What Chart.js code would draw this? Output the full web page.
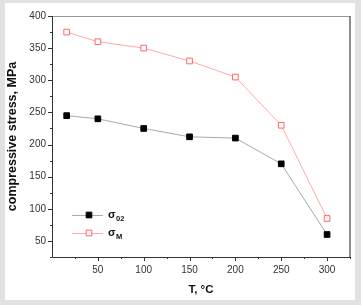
<!DOCTYPE html>
<html>
<head>
<meta charset="utf-8">
<script src="https://cdn.jsdelivr.net/npm/chart.js@4.4.1/dist/chart.umd.min.js"></script>
<style>
html,body{margin:0;padding:0;background:#e2e2e2;}
#wrap{position:relative;width:361px;height:305px;}
</style>
</head>
<body>
<div id="wrap"><canvas id="c" width="361" height="305"></canvas></div>
<script>
const temperatures = [16, 50, 100, 150, 200, 250, 300];
const sigma02 = [245, 240, 225, 212, 210, 170, 60];
const sigmaM = [375, 360, 350, 330, 305, 230, 85];
const xTickValues = [50, 100, 150, 200, 250, 300];
const yTickValues = [50, 100, 150, 200, 250, 300, 350, 400];
const yTitle = 'compressive stress, MPa';
const xTitle = 'T, °C';
const legendItems = [
  {main: 'σ', sub: '02'},
  {main: 'σ', sub: 'M'}
];

const toPoints = (xs, ys) => xs.map((x, i) => ({x: x, y: ys[i]}));

const panelPlugin = {
  id: 'panel',
  beforeDraw(chart) {
    const ctx = chart.ctx;
    ctx.save();
    ctx.fillStyle = '#e2e2e2';
    ctx.fillRect(0, 0, chart.width, chart.height);
    ctx.fillStyle = '#ffffff';
    ctx.fillRect(5, 3, 350, 297);
    ctx.restore();
  },
  afterDatasetsDraw(chart) {
    const ctx = chart.ctx;
    const a = chart.chartArea;
    const xs = chart.scales.x, ys = chart.scales.y;
    ctx.save();
    // frame
    ctx.strokeStyle = '#999';
    ctx.lineWidth = 1;
    ctx.beginPath();
    ctx.moveTo(a.left, a.top + 0.5);
    ctx.lineTo(a.right, a.top + 0.5);
    ctx.stroke();
    ctx.strokeStyle = '#666';
    ctx.lineWidth = 1.5;
    ctx.beginPath();
    ctx.moveTo(a.right, a.top);
    ctx.lineTo(a.right, a.bottom);
    ctx.stroke();
    ctx.strokeStyle = '#333';
    ctx.lineWidth = 1;
    ctx.beginPath();
    ctx.moveTo(a.left + 0.5, a.top);
    ctx.lineTo(a.left + 0.5, a.bottom + 0.5);
    ctx.lineTo(a.right, a.bottom + 0.5);
    ctx.stroke();
    // ticks
    ctx.beginPath();
    for (let v = 25; v <= 325; v += 25) {
      const px = Math.round(xs.getPixelForValue(v)) + 0.5;
      const len = (v % 50 === 0) ? 4 : 2;
      ctx.moveTo(px, a.bottom);
      ctx.lineTo(px, a.bottom + len);
    }
    for (let v = 25; v <= 400; v += 25) {
      const py = Math.round(ys.getPixelForValue(v)) + 0.5;
      const len = (v % 50 === 0) ? 4 : 2;
      ctx.moveTo(a.left, py);
      ctx.lineTo(a.left - len, py);
    }
    ctx.stroke();
    // legend
    const lx1 = 72, lx2 = 103, mx = 89;
    const rows = [215, 233];
    chart.data.datasets.forEach((ds, i) => {
      const y = rows[i];
      ctx.strokeStyle = ds.borderColor;
      ctx.lineWidth = 1;
      ctx.beginPath();
      ctx.moveTo(lx1, y + 0.5);
      ctx.lineTo(lx2, y + 0.5);
      ctx.stroke();
      ctx.fillStyle = ds.pointBackgroundColor;
      ctx.strokeStyle = ds.pointBorderColor;
      ctx.beginPath();
      const s = 4 * Math.SQRT1_2;
      ctx.rect(mx - s, y - s, 2 * s, 2 * s);
      ctx.fill();
      ctx.stroke();
      ctx.fillStyle = '#111';
      ctx.textBaseline = 'middle';
      ctx.textAlign = 'left';
      ctx.font = 'bold 11px "Liberation Sans", Arial, sans-serif';
      ctx.fillText(legendItems[i].main, 108, y);
      const w = ctx.measureText(legendItems[i].main).width;
      ctx.font = 'bold 7.5px "Liberation Sans", Arial, sans-serif';
      ctx.fillText(legendItems[i].sub, 108 + w + 0.5, y + 4);
    });
    ctx.restore();
  }
};

new Chart(document.getElementById('c'), {
  type: 'line',
  data: {
    datasets: [
      {
        label: 'σ02',
        data: toPoints(temperatures, sigma02),
        borderColor: '#aaaaaa',
        borderWidth: 1,
        pointStyle: 'rect',
        pointRadius: 4,
        pointBackgroundColor: '#000000',
        pointBorderColor: '#000000',
        pointBorderWidth: 1,
        tension: 0
      },
      {
        label: 'σM',
        data: toPoints(temperatures, sigmaM),
        borderColor: '#ffaaaa',
        borderWidth: 1,
        pointStyle: 'rect',
        pointRadius: 4,
        pointBackgroundColor: '#ffffff',
        pointBorderColor: '#ff6666',
        pointBorderWidth: 1,
        tension: 0
      }
    ]
  },
  options: {
    responsive: false,
    animation: false,
    devicePixelRatio: 1,
    layout: {padding: {left: 0, top: 16, right: 11, bottom: 0}},
    plugins: {legend: {display: false}, tooltip: {enabled: false}},
    scales: {
      x: {
        type: 'linear',
        min: 0, max: 325,
        afterFit(s) { s.height = 48; },
        afterBuildTicks(s) { s.ticks = xTickValues.map(v => ({value: v})); },
        grid: {display: false, drawTicks: true, tickLength: 4},
        border: {display: false},
        ticks: {autoSkip: false, maxRotation: 0, padding: 3, color: '#333',
          font: {family: '"Liberation Sans", Arial, sans-serif', size: 10}},
        title: {display: true, text: xTitle, color: '#111',
          font: {family: '"Liberation Sans", Arial, sans-serif', size: 11.5, weight: 'bold'},
          padding: {top: 0, bottom: 8}}
      },
      y: {
        type: 'linear',
        min: 25, max: 400,
        afterFit(s) { s.width = 52; },
        afterBuildTicks(s) { s.ticks = yTickValues.map(v => ({value: v})); },
        grid: {display: false, drawTicks: true, tickLength: 4},
        border: {display: false},
        ticks: {autoSkip: false, padding: 2, color: '#333',
          font: {family: '"Liberation Sans", Arial, sans-serif', size: 10}},
        title: {display: true, text: yTitle, color: '#111',
          font: {family: '"Liberation Sans", Arial, sans-serif', size: 12.5, weight: 'bold'},
          padding: {top: 5, bottom: 0}}
      }
    }
  },
  plugins: [panelPlugin]
});
</script>
</body>
</html>
